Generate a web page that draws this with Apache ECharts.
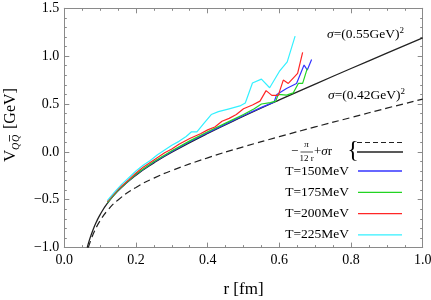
<!DOCTYPE html>
<html><head><meta charset="utf-8">
<script src="https://cdn.jsdelivr.net/npm/echarts@6/dist/echarts.min.js"></script>
<style>html,body{margin:0;padding:0;background:#fff}#c{width:431px;height:300px}</style>
</head><body><div id="c"></div>
<script>
// Reference curves: -pi/(12r) + sigma r
const rSolid = [0.064,0.07,0.08,0.09,0.10,0.12,0.15,0.20,0.25,0.30,0.40,0.50,0.60,0.70,0.80,0.90,1.00];
const vSolid = [-1.0,-0.922,-0.815,-0.728,-0.655,-0.538,-0.406,-0.243,-0.115,-0.003,0.193,0.372,0.543,0.708,0.871,1.031,1.190];
const rDash = [0.067,0.075,0.085,0.10,0.12,0.15,0.20,0.25,0.30,0.40,0.50,0.60,0.70,0.80,0.90,1.00];
const vDash = [-1.0,-0.913,-0.823,-0.719,-0.615,-0.502,-0.371,-0.274,-0.195,-0.062,0.053,0.159,0.261,0.359,0.457,0.551];
// Lattice-like data series
const rT150 = [0.12,0.15,0.20,0.25,0.30,0.35,0.40,0.45,0.50,0.55,0.585,0.593,0.62,0.648,0.669,0.678,0.69];
const vT150 = [-0.53,-0.40,-0.235,-0.105,0.005,0.105,0.20,0.29,0.38,0.465,0.52,0.60,0.663,0.715,0.907,0.855,0.966];
const rT175 = [0.12,0.15,0.20,0.25,0.30,0.35,0.40,0.45,0.50,0.53,0.55,0.575,0.59,0.597,0.62,0.639,0.653,0.665,0.678];
const vT175 = [-0.53,-0.40,-0.232,-0.10,0.012,0.115,0.21,0.30,0.39,0.45,0.50,0.515,0.53,0.60,0.593,0.617,0.715,0.715,0.872];
const rT200 = [0.12,0.15,0.18,0.20,0.22,0.25,0.28,0.30,0.32,0.35,0.38,0.40,0.42,0.44,0.46,0.48,0.50,0.525,0.546,0.563,0.579,0.597,0.611,0.625,0.651,0.665];
const vT200 = [-0.52,-0.39,-0.29,-0.22,-0.16,-0.085,-0.01,0.03,0.08,0.14,0.19,0.23,0.26,0.32,0.35,0.39,0.45,0.49,0.53,0.64,0.59,0.59,0.75,0.715,0.82,1.04];
const rT225 = [0.12,0.14,0.16,0.18,0.20,0.22,0.24,0.26,0.28,0.30,0.32,0.34,0.355,0.37,0.39,0.41,0.43,0.46,0.49,0.505,0.525,0.55,0.573,0.60,0.622,0.644];
const vT225 = [-0.51,-0.42,-0.34,-0.27,-0.20,-0.14,-0.09,-0.03,0.02,0.07,0.11,0.16,0.21,0.21,0.30,0.39,0.42,0.45,0.48,0.51,0.72,0.76,0.67,0.84,0.94,1.21];
const xTicks = [0,0.2,0.4,0.6,0.8,1.0];
const yTicks = [-1.0,-0.5,0.0,0.5,1.0,1.5];
const names = ['T=150MeV','T=175MeV','T=200MeV','T=225MeV'];
const colors = ['#3535ff','#22d422','#ff2626','#33f0ff'];

const zip = (r,v) => r.map((x,i)=>[x,v[i]]);
const SERIF = '"Liberation Serif","DejaVu Serif",serif';
const fmt = v => (v<0?'\u2212':'') + Math.abs(v).toFixed(1);
const frame = '#8a8a8a';
const baseAxis = {
  axisLine:{show:true,onZero:false,lineStyle:{color:frame,width:1}},
  axisTick:{show:true,inside:true,length:5,lineStyle:{color:frame}},
  splitLine:{show:false}, minorSplitLine:{show:false}
};
const chart = echarts.init(document.getElementById('c'), null, {renderer:'canvas'});
const dataSeries = [rT150,rT175,rT200,rT225].map((r,i)=>({
  name:names[i], type:'line', symbol:'none', smooth:false,
  data: zip(r,[vT150,vT175,vT200,vT225][i]),
  lineStyle:{color:colors[i],width:1.2}, itemStyle:{color:colors[i]}, z:3+i
}));
chart.setOption({
  animation:false,
  grid:{left:64.3,right:8.3,top:8.3,bottom:52.4,containLabel:false,outerBoundsMode:'none'},
  xAxis:[
    Object.assign({type:'value',min:xTicks[0],max:xTicks[xTicks.length-1],interval:0.2,position:'bottom',
      axisLabel:{formatter:fmt,color:'#000',fontFamily:SERIF,fontSize:14,margin:6},
      name:'r [fm]',nameLocation:'middle',nameGap:33,nameTextStyle:{fontFamily:SERIF,fontSize:17,color:'#000'}},baseAxis,
      {minorTick:{show:true,splitNumber:4,length:2.5,lineStyle:{color:frame}}}),
    Object.assign({type:'value',min:0,max:1,interval:0.2,position:'top',axisLabel:{show:false}},baseAxis,
      {minorTick:{show:true,splitNumber:4,length:2.5,lineStyle:{color:frame}}})
  ],
  yAxis:[
    Object.assign({type:'value',min:yTicks[0],max:yTicks[yTicks.length-1],interval:0.5,position:'left',
      axisLabel:{formatter:fmt,color:'#000',fontFamily:SERIF,fontSize:14,margin:5}},baseAxis,
      {minorTick:{show:true,splitNumber:5,length:2.5,lineStyle:{color:frame}}}),
    Object.assign({type:'value',min:-1,max:1.5,interval:0.5,position:'right',axisLabel:{show:false}},baseAxis,
      {minorTick:{show:true,splitNumber:5,length:2.5,lineStyle:{color:frame}}})
  ],
  legend:{data:names,orient:'vertical',align:'right',right:29,top:164,padding:0,itemWidth:44,itemHeight:12,itemGap:7.3,
    icon:'path://M0,0L44,0L44,1.3L0,1.3Z',
    textStyle:{fontFamily:SERIF,fontSize:13.5,color:'#000',lineHeight:12,padding:[0,4,0,0]}},
  series:[
    {name:'dash',type:'line',symbol:'none',smooth:true,data:zip(rDash,vDash),
      lineStyle:{color:'#222',width:1.2,type:[7,4]},z:1},
    {name:'solid',type:'line',symbol:'none',smooth:true,data:zip(rSolid,vSolid),
      lineStyle:{color:'#222',width:1.3},z:2}
  ].concat(dataSeries),
  graphic:[
    {type:'text',left:327,top:26,style:{rich:{i:{fontFamily:SERIF,fontStyle:'italic',fontSize:13.5},n:{fontFamily:SERIF,fontSize:13.5},s:{fontFamily:SERIF,fontSize:9,padding:[0,0,8,0]}},
      text:'{i|\u03c3}{n|=(0.55GeV)}{s|2}',fill:'#000'}},
    {type:'text',left:328,top:87,style:{rich:{i:{fontFamily:SERIF,fontStyle:'italic',fontSize:13.5},n:{fontFamily:SERIF,fontSize:13.5},s:{fontFamily:SERIF,fontSize:9,padding:[0,0,8,0]}},
      text:'{i|\u03c3}{n|=(0.42GeV)}{s|2}',fill:'#000'}},
    // formula legend entry
    {type:'text',style:{text:'\u2212',x:291,y:152,font:'13px '+SERIF,textVerticalAlign:'middle',fill:'#000'}},
    {type:'text',style:{text:'\u03c0',x:306.5,y:145,font:'italic 9px '+SERIF,textAlign:'center',textVerticalAlign:'middle',fill:'#000'}},
    {type:'line',shape:{x1:300.5,y1:152,x2:313,y2:152},style:{stroke:'#000',lineWidth:0.7}},
    {type:'text',style:{text:'12 r',x:306.5,y:159,font:'9px '+SERIF,textAlign:'center',textVerticalAlign:'middle',fill:'#000'}},
    {type:'text',style:{rich:{i:{fontFamily:SERIF,fontStyle:'italic',fontSize:13},n:{fontFamily:SERIF,fontSize:13}},text:'{n|+}{i|\u03c3}{n|r}',x:314,y:152,textVerticalAlign:'middle',fill:'#000'}},
    {type:'text',style:{text:'{',x:353,y:151,font:'24px '+SERIF,textAlign:'center',textVerticalAlign:'middle',fill:'#000'}},
    {type:'line',shape:{x1:357,y1:142.5,x2:403,y2:142.5},style:{stroke:'#222',lineWidth:1.2,lineDash:[5,3]}},
    {type:'line',shape:{x1:357,y1:152,x2:403,y2:152},style:{stroke:'#222',lineWidth:1.3}},
    // y axis title, rotated
    {type:'group',x:11,y:162,rotation:Math.PI/2,children:[
      {type:'text',style:{text:'V',x:0,y:0,font:'17px '+SERIF,textVerticalAlign:'middle',fill:'#000'}},
      {type:'text',style:{text:'Q',x:12,y:5,font:'italic 10px '+SERIF,textVerticalAlign:'middle',fill:'#000'}},
      {type:'text',style:{text:'Q',x:20,y:5,font:'italic 10px '+SERIF,textVerticalAlign:'middle',fill:'#000'}},
      {type:'line',shape:{x1:20.5,y1:-1.5,x2:27,y2:-1.5},style:{stroke:'#000',lineWidth:0.8}},
      {type:'text',style:{text:'[GeV]',x:33,y:0,font:'16px '+SERIF,textVerticalAlign:'middle',fill:'#000'}}
    ]}
  ]
});
</script></body></html>
